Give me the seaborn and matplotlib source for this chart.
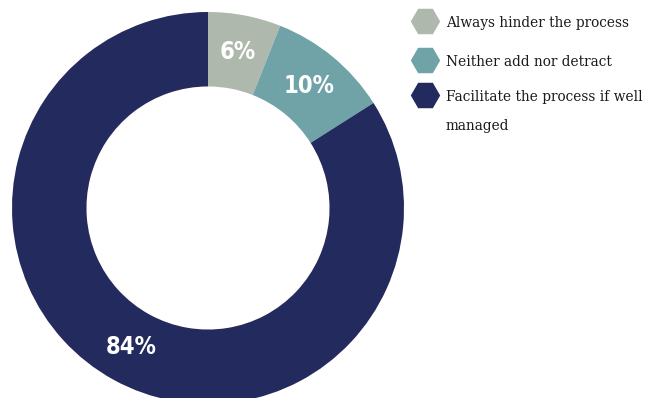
import matplotlib
matplotlib.use("Agg")
import matplotlib.pyplot as plt
import seaborn as sns
import numpy as np

sns.set_theme(style="white")
plt.rcParams["font.family"] = ["DejaVu Sans"]

categories = ["Always hinder the process", "Neither add nor detract",
              "Facilitate the process if well\nmanaged"]
shares = [6, 10, 84]
pct_labels = ["6%", "10%", "84%"]
palette = sns.color_palette(["#AFB8AD", "#6FA3A8", "#232A5E"])

fig = plt.figure(figsize=(6.54, 3.98), dpi=100)
W, H = 654, 398
# donut axes: centre (208, 208) px from top-left, radius 196 px
ax = fig.add_axes([12 / W, (H - 404) / H, 392 / W, 392 / H])
wedges, _ = ax.pie(shares, colors=palette, startangle=90, counterclock=False,
                   radius=1.0, wedgeprops=dict(width=0.38, linewidth=0))
ax.set_xlim(-1, 1)
ax.set_ylim(-1, 1)
ax.set_aspect("equal")
ax.axis("off")

# percentage labels at the middle of the ring
for w, lab in zip(wedges, pct_labels):
    mid = np.deg2rad((w.theta1 + w.theta2) / 2)
    r = 0.81
    ax.text(r * np.cos(mid), r * np.sin(mid), lab, ha="center", va="center",
            color="white", fontsize=17, fontweight="bold", fontstretch="condensed",
            family=["DejaVu Sans"])

# legend with hexagon markers
lax = fig.add_axes([0, 0, 1, 1])
lax.set_xlim(0, W)
lax.set_ylim(H, 0)
lax.axis("off")
ys = [21, 60, 95]
for y, c, name in zip(ys, palette, categories):
    lax.plot([425], [y], marker="H", markersize=20, color=c, linestyle="none")
    lax.text(446, y - 5, name, ha="left", va="top", fontsize=11,
             family=["DejaVu Serif"], fontstretch="condensed", color="#1a1a1a",
             linespacing=2.4)

fig.savefig("out.png", dpi=100)
